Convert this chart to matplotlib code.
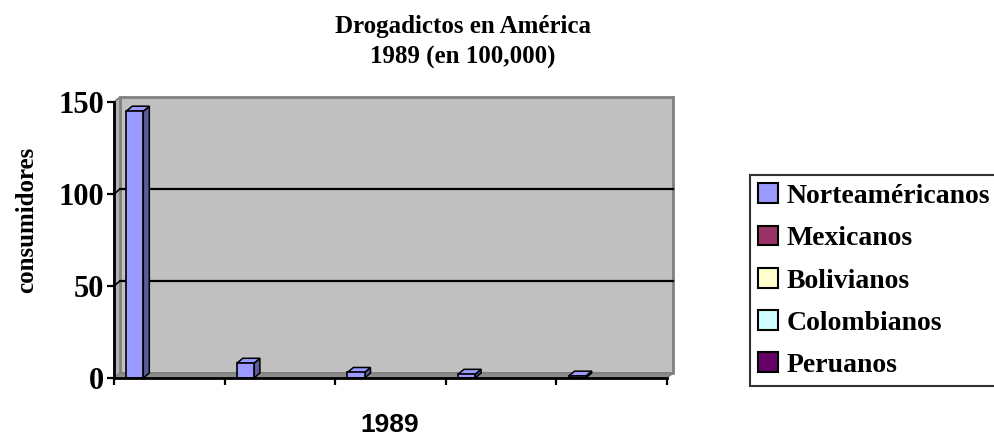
import matplotlib
matplotlib.use("Agg")
import matplotlib.pyplot as plt
from matplotlib.patches import Polygon, Rectangle, Patch

# ---- data ----
series = ["Norteaméricanos", "Mexicanos", "Bolivianos", "Colombianos", "Peruanos"]
values = [145, 8, 3, 2, 1]
legend_colors = ["#9999FF", "#993366", "#FFFFCC", "#CCFFFF", "#660066"]
yticks = [0, 50, 100, 150]
title = "Drogadictos en América\n1989 (en 100,000)"
xlabel = "1989"
ylabel = "consumidores"

W, H = 995, 443
fig = plt.figure(figsize=(W / 100, H / 100), dpi=100)
left_px, right_px, top_px, bot_px = 114, 667, 102, 378
ax = fig.add_axes([left_px / W, (H - bot_px) / H, (right_px - left_px) / W, (bot_px - top_px) / H])
n = len(values)
ax.set_xlim(0, n)
ax.set_ylim(0, 150)

# depth offsets (pixels -> data units)
off_x_px, off_y_px = 6, 5
ddx = off_x_px / (right_px - left_px) * n
ddy = off_y_px / (bot_px - top_px) * 150

for s in ax.spines.values():
    s.set_visible(False)
ax.set_facecolor("none")

# back wall
ax.add_patch(Rectangle((ddx, ddy), n, 150, facecolor="#C0C0C0", edgecolor="#808080",
                       lw=2, zorder=0, clip_on=False))
# left wall
ax.add_patch(Polygon([(0, 0), (0, 150), (ddx, 150 + ddy), (ddx, ddy)], closed=True,
                     facecolor="#B0B0B0", edgecolor="#808080", lw=1.2, zorder=0.5, clip_on=False))
# floor
ax.add_patch(Polygon([(0, 0), (n, 0), (n + ddx, ddy), (ddx, ddy)], closed=True,
                     facecolor="#8C8C8C", edgecolor="#808080", lw=1.0, zorder=0.5, clip_on=False))

# gridlines on back wall
for v in yticks[1:-1]:
    ax.plot([ddx, n + ddx], [v + ddy, v + ddy], color="black", lw=1.6, zorder=1, clip_on=False)
    ax.plot([0, ddx], [v, v + ddy], color="black", lw=1.2, zorder=1, clip_on=False)

# bars (3D look)
bw = 0.155
for i, h in enumerate(values):
    x0 = i + 0.11
    x1 = x0 + bw
    ax.add_patch(Polygon([(x1, 0), (x1, h), (x1 + ddx, h + ddy), (x1 + ddx, ddy)], closed=True,
                         facecolor="#5C5C99", edgecolor="black", lw=1.1, zorder=3, clip_on=False))
    ax.add_patch(Polygon([(x0, h), (x1, h), (x1 + ddx, h + ddy), (x0 + ddx, h + ddy)], closed=True,
                         facecolor="#9999FF", edgecolor="black", lw=1.1, zorder=3, clip_on=False))
    ax.bar([x0], [h], width=bw, align="edge", color="#9999FF", edgecolor="black", lw=1.2, zorder=4)

# front axes lines
ax.plot([0, 0], [0, 150], color="black", lw=2, zorder=5, clip_on=False)
ax.plot([0, n], [0, 0], color="black", lw=2, zorder=5, clip_on=False)

ax.set_yticks(yticks)
ax.set_yticklabels([str(t) for t in yticks], fontfamily="Liberation Serif", fontweight="bold",
                   fontsize=22)
ax.set_xticks(range(n + 1))
ax.set_xticklabels([])
ax.tick_params(axis="both", direction="out", length=5, width=1.6, color="black", pad=2)

fig.text(390 / W, 1 - 425 / H, xlabel, ha="center", va="center",
         fontfamily="Liberation Sans", fontweight="bold", fontsize=19)
fig.text(27 / W, 1 - 220 / H, ylabel, rotation=90, ha="center", va="center",
         fontfamily="Liberation Serif", fontweight="bold", fontsize=18)
fig.text(463 / W, 1 - 42 / H, title, ha="center", va="center", fontfamily="Liberation Serif",
         fontweight="bold", fontsize=18, linespacing=1.4)

handles = [Patch(facecolor=c, edgecolor="black", lw=1.5) for c in legend_colors]
leg = fig.legend(handles, series, loc="upper left", bbox_to_anchor=(750 / W, (H - 175) / H),
                 prop={"family": "Liberation Serif", "weight": "bold", "size": 20},
                 fancybox=False, frameon=True, handlelength=0.72, handleheight=0.72,
                 handletextpad=0.3, labelspacing=0.6, borderpad=0.3, borderaxespad=0)
leg.get_frame().set_edgecolor("black")
leg.get_frame().set_linewidth(1.5)

fig.savefig("out.png", dpi=100)
